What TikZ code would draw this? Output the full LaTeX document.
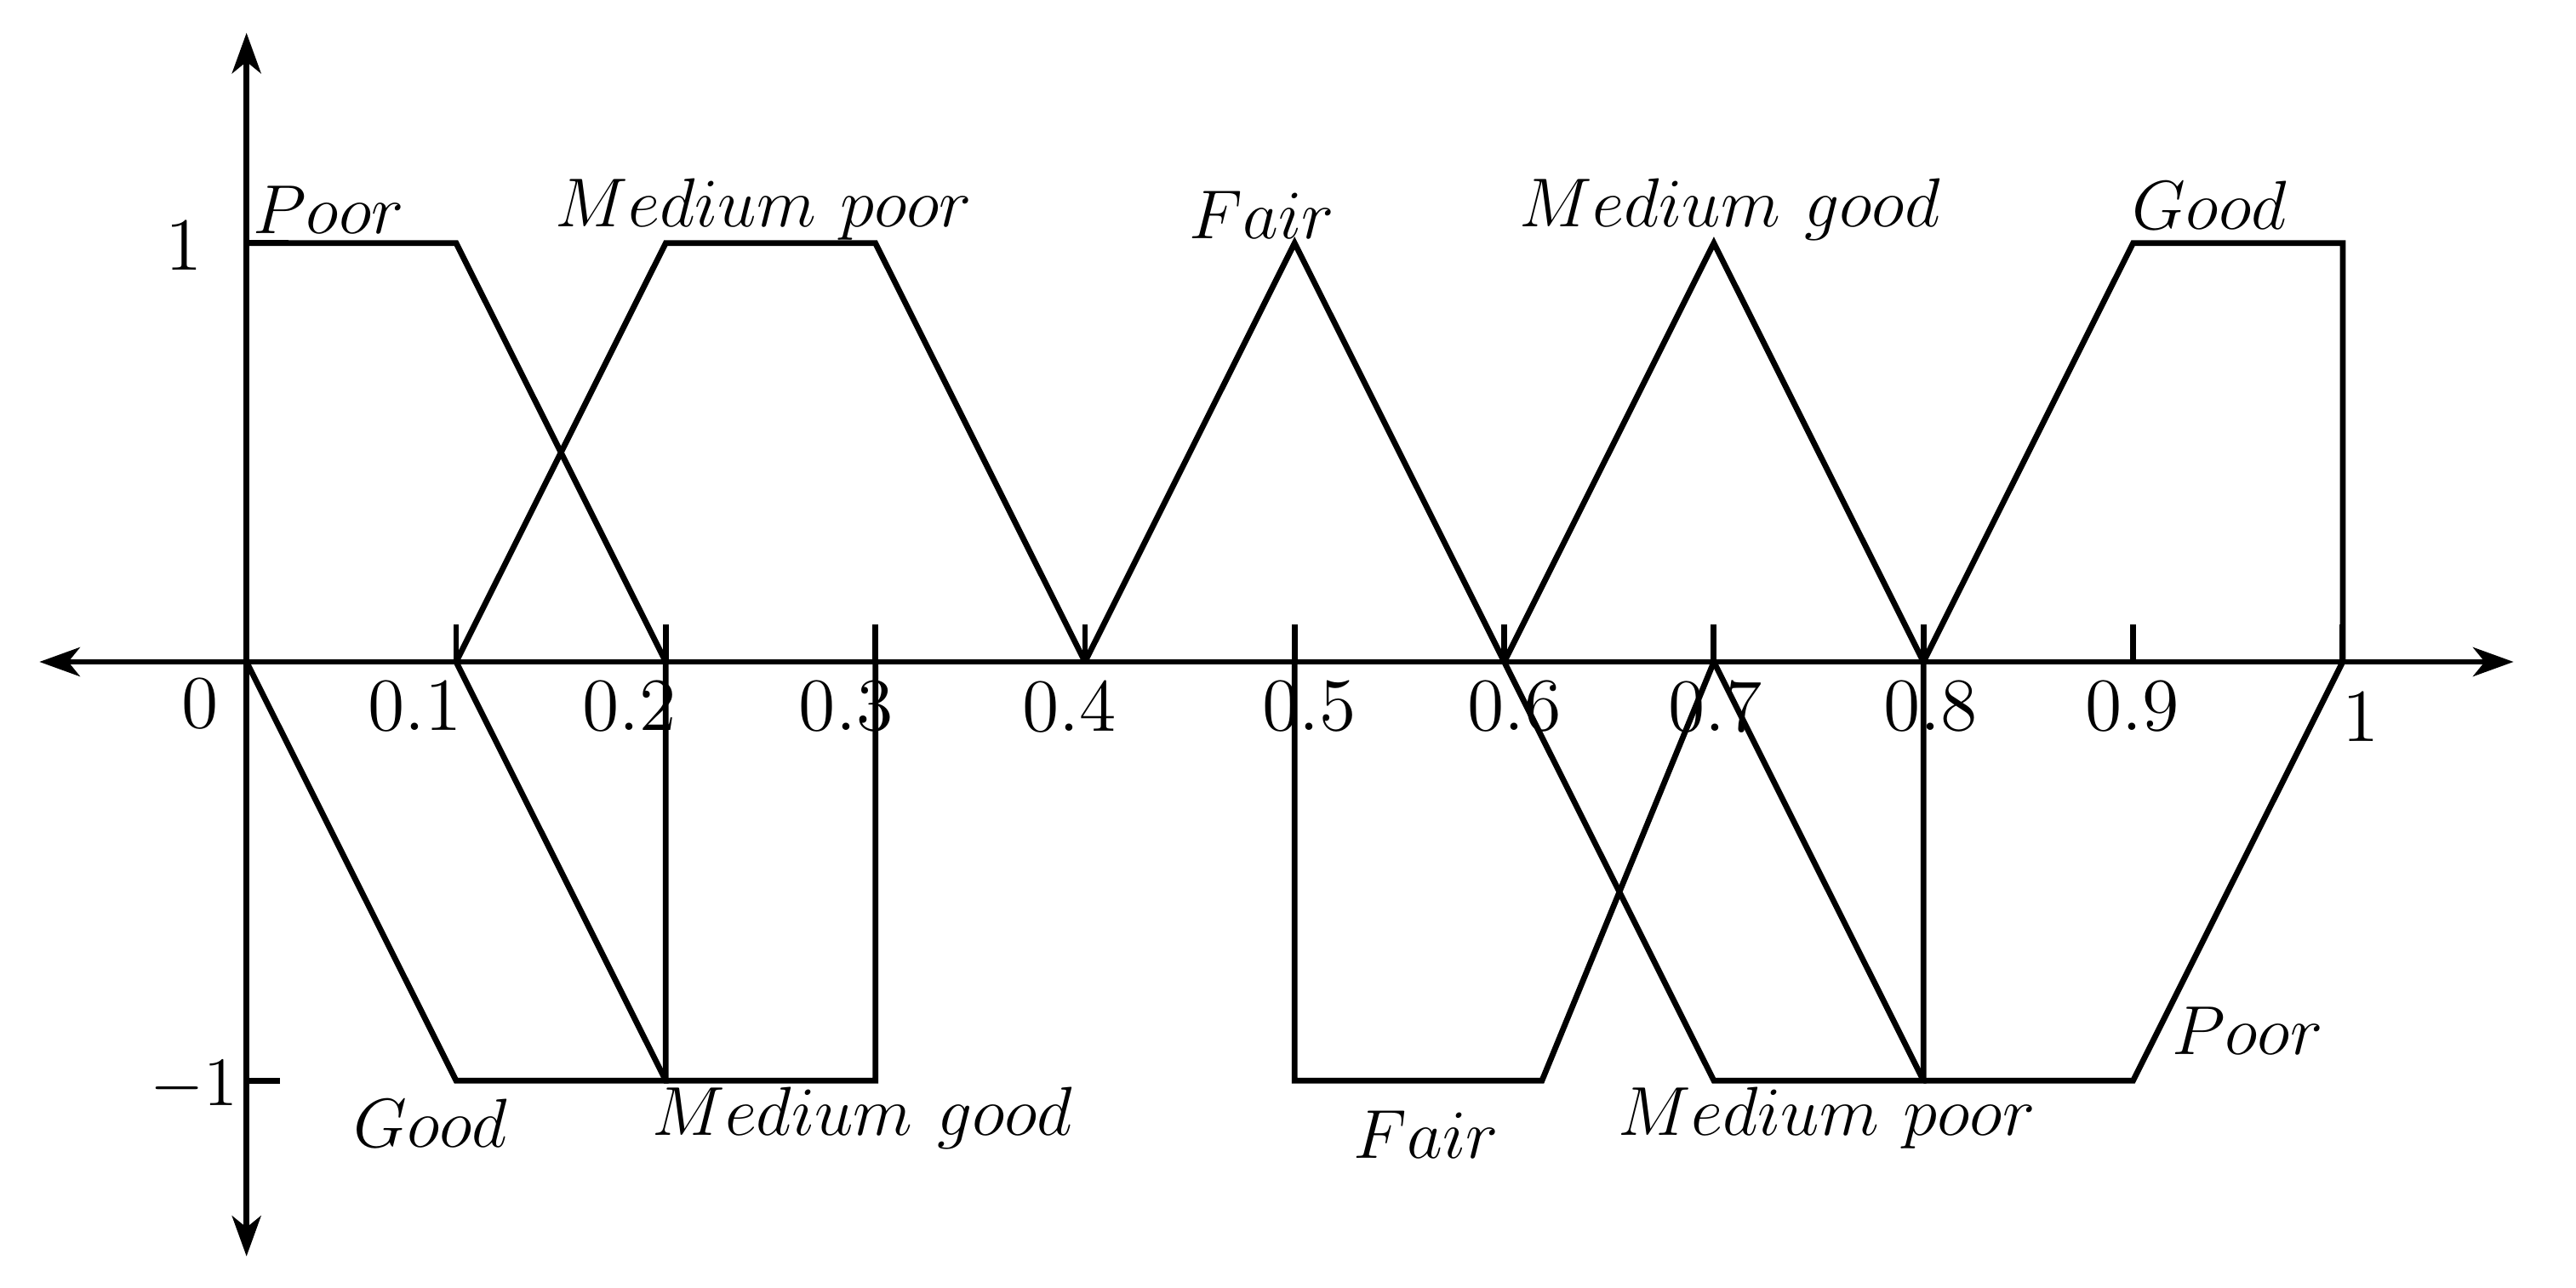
\documentclass[tikz,border=0pt]{standalone}
\usetikzlibrary{arrows.meta}
\begin{document}
\begin{tikzpicture}[x=12.76cm,y=2.55cm,
  ln/.style={line width=1pt,line join=miter},
  lab/.style={font=\fontsize{13}{15}\selectfont,inner sep=0pt},
  ax/.style={line width=1pt,{Stealth[length=7pt,width=5pt,inset=2pt]}-{Stealth[length=7pt,width=5pt,inset=2pt]}}]
\useasboundingbox (-0.1176,-1.4941) rectangle (1.1113,1.5804);
% axes
\coordinate (xl) at (-0.0988,0); \coordinate (xr) at (1.0815,0);
\coordinate (yt) at (0,1.502); \coordinate (yb) at (0,-1.4196);
\draw[ax] (xl) -- (xr);
\draw[ax] (yt) -- (yb);
% ticks
\foreach \v in {0.1,0.2,...,1.0} \draw[ln] (\v,0) -- (\v,0.09);
\draw[ln] (0,-1) -- (0.016,-1);
\draw[ln] (0,1) -- (0.02,1);
% upper sets
\draw[ln] (0,1) -- (0.1,1) -- (0.2,0);
\draw[ln] (0.1,0) -- (0.2,1) -- (0.3,1) -- (0.4,0);
\draw[ln] (0.4,0) -- (0.5,1) -- (0.6,0);
\draw[ln] (0.6,0) -- (0.7,1) -- (0.8,0);
\draw[ln] (0.8,0) -- (0.9,1) -- (1,1) -- (1,0);
% lower sets
\draw[ln] (0,0) -- (0.1,-1) -- (0.2,-1) -- (0.2,0);
\draw[ln] (0.1,0) -- (0.2,-1) -- (0.3,-1) -- (0.3,0);
\draw[ln] (0.5,0) -- (0.5,-1) -- (0.618,-1) -- (0.7,0);
\draw[ln] (0.6,0) -- (0.7,-1) -- (0.8,-1) -- (0.8,0);
\draw[ln] (0.7,0) -- (0.8,-1);
\draw[ln] (0.8,-1) -- (0.9,-1) -- (1,0);
% axis labels
\node[lab] (l0) at (-0.022,-0.1) {0};
\node[lab] (l1) at (0.0805,-0.106) {0.1};
\node[lab] (l2) at (0.1826,-0.106) {0.2};
\node[lab] (l3) at (0.286,-0.106) {0.3};
\node[lab] (l4) at (0.3926,-0.106) {0.4};
\node[lab] (l5) at (0.5071,-0.106) {0.5};
\node[lab] (l6) at (0.605,-0.106) {0.6};
\node[lab] (l7) at (0.7006,-0.106) {0.7};
\node[lab] (l8) at (0.8033,-0.106) {0.8};
\node[lab] (l9) at (0.8997,-0.106) {0.9};
\node[lab] (l10) at (1.0086,-0.13) {1};
\node[lab] (ly1) at (-0.0298,0.996) {1};
\node[lab] (lym) at (-0.0251,-1.012) {$-1$};
% set labels
\node[lab] (pu) at (0.0392,1.08) {$Poor$};
\node[lab] (mpu) at (0.2468,1.08) {$Medium\ poor$};
\node[lab] (fu) at (0.4843,1.067) {$Fair$};
\node[lab] (mgu) at (0.7077,1.08) {$Medium\ good$};
\node[lab] (gu) at (0.9365,1.09) {$Good$};
\node[lab] (gl) at (0.0878,-1.102) {$Good$};
\node[lab] (mgl) at (0.2939,-1.09) {$Medium\ good$};
\node[lab] (fl) at (0.5627,-1.129) {$Fair$};
\node[lab] (mpl) at (0.7539,-1.09) {$Medium\ poor$};
\node[lab] (pl) at (0.9545,-0.882) {$Poor$};
\end{tikzpicture}
\end{document}
